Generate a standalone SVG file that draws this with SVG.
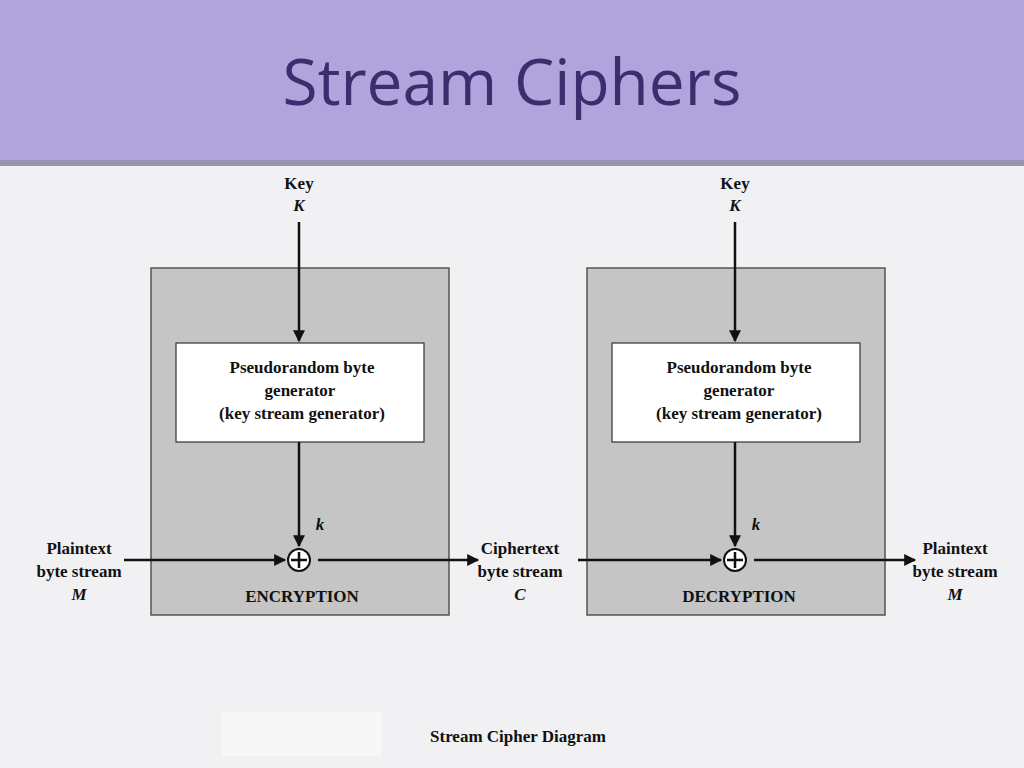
<svg xmlns="http://www.w3.org/2000/svg" width="1024" height="768" viewBox="0 0 1024 768">
<style>
.t{font-family:"Liberation Serif",serif;font-weight:bold;font-size:17px;fill:#111;text-anchor:middle}
.i{font-style:italic}
.ln{stroke:#111;stroke-width:2.5;fill:none}
.box{fill:#c4c5c4;stroke:#555;stroke-width:1.5}
.gen{fill:#fff;stroke:#333;stroke-width:1.2}
</style>
<defs><marker id="a" viewBox="0 0 10 10" refX="9" refY="5" markerWidth="6" markerHeight="6" orient="auto" markerUnits="userSpaceOnUse"><path d="M0,0L10,5L0,10z" fill="#111"/></marker>
<marker id="b" viewBox="0 0 10 10" refX="9" refY="5" markerWidth="14" markerHeight="12" orient="auto" markerUnits="userSpaceOnUse"><path d="M0,0L10,5L0,10z" fill="#111"/></marker></defs>
<rect width="1024" height="768" fill="#f1f0f3"/>
<rect width="1024" height="160" fill="#b1a4dc"/>
<rect y="160" width="1024" height="6" fill="#9a93b0"/>
<text x="512" y="105" font-family="Open Sans,sans-serif" font-size="64" fill="#3a2e6e" text-anchor="middle">Stream Ciphers</text>
<g id="enc"><rect class="box" x="151" y="268" width="298" height="347"/><text class="t" x="302" y="602">ENCRYPTION</text></g>
<g id="dec"><rect class="box" x="587" y="268" width="298" height="347"/><text class="t" x="739" y="602">DECRYPTION</text></g>
<g id="gen1"><rect class="gen" x="176" y="343" width="248" height="99"/><text class="t" x="302" y="373">Pseudorandom byte</text><text class="t" x="300" y="396">generator</text><text class="t" x="302" y="419">(key stream generator)</text></g>
<g id="gen2"><rect class="gen" x="612" y="343" width="248" height="99"/><text class="t" x="739" y="373">Pseudorandom byte</text><text class="t" x="739" y="396">generator</text><text class="t" x="739" y="419">(key stream generator)</text></g>
<g id="x1"><circle cx="299" cy="560" r="11" fill="#fff" stroke="#111" stroke-width="2"/><path class="ln" d="M299,552V568M291,560H307" stroke-width="2"/></g>
<g id="x2"><circle cx="735" cy="560" r="11" fill="#fff" stroke="#111" stroke-width="2"/><path class="ln" d="M735,552V568M727,560H743" stroke-width="2"/></g>
<g id="labels">
<text class="t" x="299" y="189">Key</text><text class="t i" x="299" y="211">K</text>
<text class="t" x="735" y="189">Key</text><text class="t i" x="735" y="211">K</text>
<text class="t i" x="320" y="530">k</text><text class="t i" x="756" y="530">k</text>
<text class="t" x="79" y="554">Plaintext</text><text class="t" x="79" y="577">byte stream</text><text class="t i" x="79" y="600">M</text>
<text class="t" x="520" y="554">Ciphertext</text><text class="t" x="520" y="577">byte stream</text><text class="t i" x="520" y="600">C</text>
<text class="t" x="955" y="554">Plaintext</text><text class="t" x="955" y="577">byte stream</text><text class="t i" x="955" y="600">M</text>
</g>
<g id="connectors">
<path class="ln" d="M299,222V341" marker-end="url(#b)"/>
<path class="ln" d="M735,222V341" marker-end="url(#b)"/>
<path class="ln" d="M299,442V546" marker-end="url(#b)"/>
<path class="ln" d="M735,442V546" marker-end="url(#b)"/>
<path class="ln" d="M124,560H285" marker-end="url(#b)"/>
<path class="ln" d="M318,560H478" marker-end="url(#b)"/>
<path class="ln" d="M578,560H721" marker-end="url(#b)"/>
<path class="ln" d="M754,560H915" marker-end="url(#b)"/>
</g>
<rect x="222" y="712" width="160" height="44" fill="#f7f7f7"/>
<text class="t" x="518" y="742" font-size="22">Stream Cipher Diagram</text>
</svg>
